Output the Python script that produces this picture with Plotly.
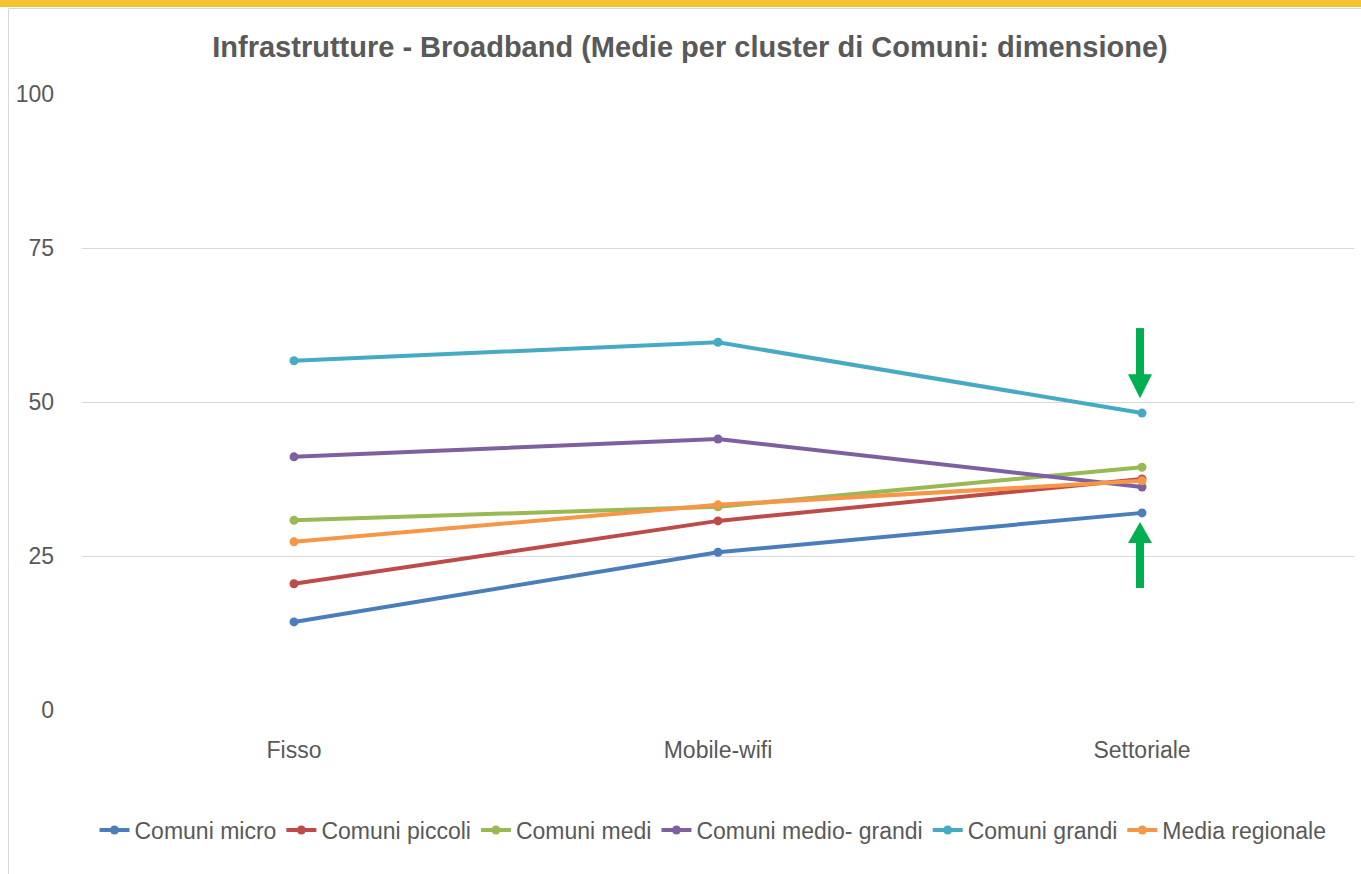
import plotly.graph_objects as go

categories = ["Fisso", "Mobile-wifi", "Settoriale"]
series_names = ["Comuni micro", "Comuni piccoli", "Comuni medi",
                "Comuni medio- grandi", "Comuni grandi", "Media regionale"]
comuni_micro = [14.3, 25.6, 32.0]
comuni_piccoli = [20.5, 30.7, 37.5]
comuni_medi = [30.8, 33.0, 39.4]
comuni_medio_grandi = [41.1, 44.0, 36.2]
comuni_grandi = [56.7, 59.7, 48.2]
media_regionale = [27.3, 33.3, 37.2]
y_ticks = [0, 25, 50, 75, 100]

values = [comuni_micro, comuni_piccoli, comuni_medi,
          comuni_medio_grandi, comuni_grandi, media_regionale]
colors = ["#4A7EBB", "#BE4B48", "#98B954", "#7D60A0", "#46AAC5", "#F79646"]

FONT = "Liberation Sans, Arial, sans-serif"
GRAY = "#595959"

fig = go.Figure()
for name, vals, col in zip(series_names, values, colors):
    fig.add_trace(go.Scatter(
        x=categories, y=vals, name=name, mode="lines+markers",
        line=dict(color=col, width=4), marker=dict(color=col, size=9),
    ))

W, H = 1361, 874
ml, mr, mt, mb = 82, 7, 94, 164
plot_w = W - ml - mr

# green arrows pointing at Settoriale values of Comuni grandi and Comuni micro
idx = categories.index("Settoriale")
cx = (idx + 0.5) / len(categories) - 2 / plot_w
sw = 4 / plot_w
hw = 12 / plot_w
green = "#00B050"
top_val = comuni_grandi[idx]
bot_val = comuni_micro[idx]
shapes = []
# down arrow
tip = top_val + 2.4
shapes.append(dict(type="rect", xref="paper", yref="y", x0=cx - sw, x1=cx + sw,
                   y0=tip + 3.6, y1=tip + 11.4, fillcolor=green, line=dict(width=0)))
shapes.append(dict(type="path", xref="paper", yref="y",
                   path=f"M {cx-hw} {tip+3.9} L {cx+hw} {tip+3.9} L {cx} {tip} Z",
                   fillcolor=green, line=dict(width=0)))
# up arrow
tip2 = bot_val - 1.5
shapes.append(dict(type="rect", xref="paper", yref="y", x0=cx - sw, x1=cx + sw,
                   y0=tip2 - 10.7, y1=tip2 - 3.1, fillcolor=green, line=dict(width=0)))
shapes.append(dict(type="path", xref="paper", yref="y",
                   path=f"M {cx-hw} {tip2-3.4} L {cx+hw} {tip2-3.4} L {cx} {tip2} Z",
                   fillcolor=green, line=dict(width=0)))
# yellow top band and chart frame
pad_h = H - mt - mb
def py(px):
    return 1 + (mt - px) / pad_h
def pxx(px):
    return (px - ml) / plot_w
shapes.append(dict(type="rect", xref="paper", yref="paper", x0=pxx(-5), x1=pxx(W + 5),
                   y0=py(7), y1=py(-5), fillcolor="#F3C332", line=dict(width=0), layer="below"))
shapes.append(dict(type="rect", xref="paper", yref="paper", x0=pxx(8.5), x1=pxx(W + 5),
                   y0=py(H + 5), y1=py(8.5), fillcolor="rgba(0,0,0,0)",
                   line=dict(width=1, color="#D9D9D9"), layer="below"))

fig.update_layout(
    width=W, height=H,
    margin=dict(l=ml, r=mr, t=mt, b=mb),
    paper_bgcolor="white", plot_bgcolor="white",
    font=dict(family=FONT, color=GRAY, size=23),
    title=dict(text="<b>Infrastrutture - Broadband (Medie per cluster di Comuni: dimensione)</b>",
               x=690 / W, xanchor="center", y=1 - 47 / H, yanchor="middle",
               font=dict(family=FONT, size=29, color=GRAY)),
    showlegend=True,
    legend=dict(orientation="h", xref="container", x=713 / W, xanchor="center",
                yref="container", y=1 - 830 / H, yanchor="middle",
                font=dict(size=23, color=GRAY), itemwidth=30, tracegroupgap=0),
    shapes=shapes,
)
fig.update_xaxes(range=[-0.5, 2.5], showgrid=False, showline=False, ticks="",
                 tickfont=dict(size=23, color=GRAY), ticklabelstandoff=24, zeroline=False)
fig.update_yaxes(range=[0, 100], tickvals=y_ticks, showgrid=True, gridcolor="#D9D9D9",
                 gridwidth=1, zeroline=False, showline=False, ticks="",
                 tickfont=dict(size=23, color=GRAY), ticklabelstandoff=27)

fig.write_html("out.html", config={"displayModeBar": False},
               post_script="document.body.style.margin='0';document.body.style.overflow='hidden';")
